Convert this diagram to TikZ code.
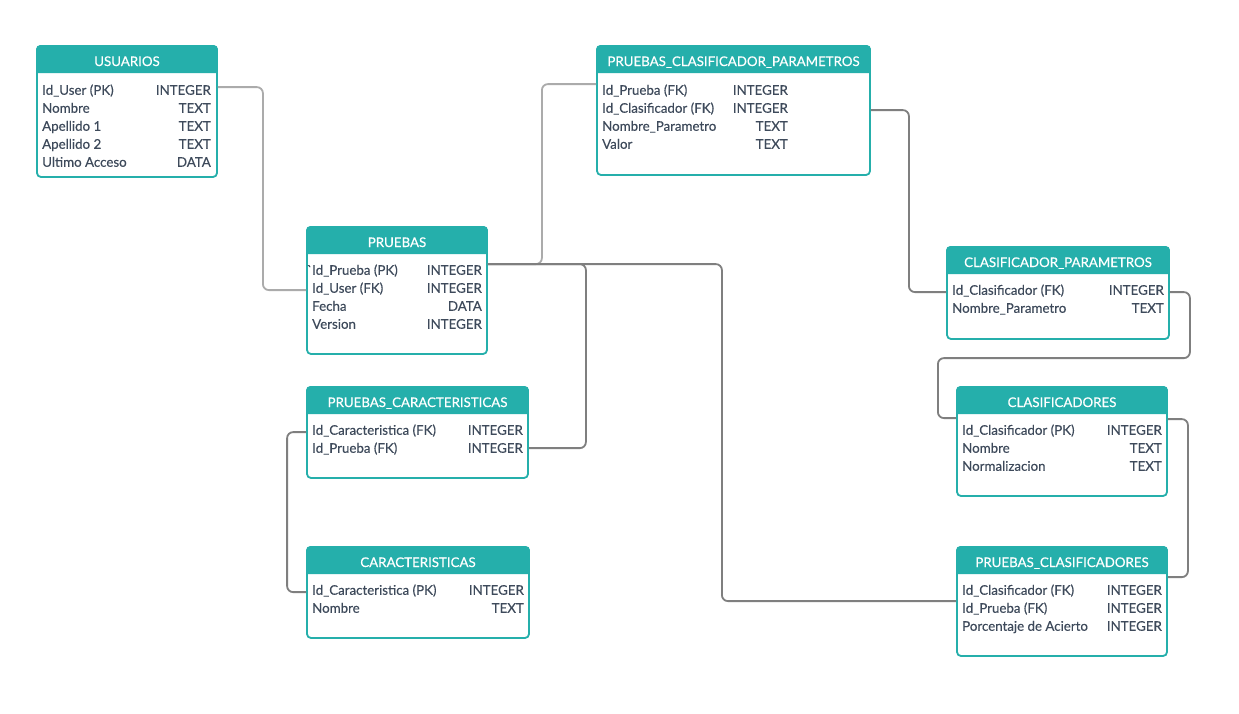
\documentclass[tikz,border=0pt]{standalone}
\usepackage{fontspec}
\setmainfont{Lato}
\newfontfamily\erfont[FakeBold=0.25]{Lato}
\definecolor{teal0}{HTML}{25AFAB}
\definecolor{ink}{HTML}{3E4A5B}
\definecolor{linkdark}{HTML}{7F7F7F}
\definecolor{linklight}{HTML}{ABABAB}

\tikzset{
  erframe/.style={draw=teal0, line width=1.8pt, fill=white, rounded corners=4pt, inner sep=0pt},
  ertitle/.style={text=white, inner sep=0pt, font=\erfont\fontsize{13.3}{15}\selectfont},
  ertext/.style={text=ink, inner sep=0pt, text height=10pt, text depth=0.5pt, font=\erfont\fontsize{13.3}{15}\selectfont},
  link/.style={draw=linkdark, line width=1.8pt, rounded corners=6pt},
  linkpale/.style={link, draw=linklight},
}

% table: name, left x, top y, width, height, title
\newcommand\erbox[6]{%
  \node[erframe, minimum width=#4pt, minimum height=#5pt] (#1) at (#2+#4/2, #3+#5/2) {};
  \fill[teal0] ([yshift=-28pt]#1.north west) [rounded corners=4pt] -- (#1.north west) -- (#1.north east) [sharp corners] -- ([yshift=-28pt]#1.north east) -- cycle;
  \node[ertitle, anchor=base] (#1-title) at (#2+#4/2, #3+20) {#6};
}
% row: name, left x, y, field, right x, type
\newcommand\errow[6]{%
  \node[ertext, anchor=west] (#1) at (#2,#3+1) {#4};
  \node[ertext, anchor=east] (#1-t) at (#5,#3+1) {#6};
}

\begin{document}
\begin{tikzpicture}[x=1pt, y=-1pt]
\useasboundingbox (0,0) rectangle (1239,713);
\fill[white] (0,0) rectangle (1239,713);

% USUARIOS
\erbox{usuarios}{37}{46}{180}{131}{USUARIOS}
\errow{usr-1}{42}{89}{Id\_User (PK)}{211}{INTEGER}
\errow{usr-2}{42}{107}{Nombre}{211}{TEXT}
\errow{usr-3}{42}{125}{Apellido 1}{211}{TEXT}
\errow{usr-4}{42}{143}{Apellido 2}{211}{TEXT}
\errow{usr-5}{42}{161}{Ultimo Acceso}{211}{DATA}

% PRUEBAS
\erbox{pruebas}{307}{227}{180}{127}{PRUEBAS}
\errow{pru-1}{312}{269}{\llap{\textasciigrave}Id\_Prueba (PK)}{482}{INTEGER}
\errow{pru-2}{312}{287}{Id\_User (FK)}{482}{INTEGER}
\errow{pru-3}{312}{305}{Fecha}{482}{DATA}
\errow{pru-4}{312}{323}{Version}{482}{INTEGER}

% PRUEBAS_CLASIFICADOR_PARAMETROS
\erbox{pcp}{597}{46}{273}{129}{PRUEBAS\_CLASIFICADOR\_PARAMETROS}
\errow{pcp-1}{602}{89}{Id\_Prueba (FK)}{788}{INTEGER}
\errow{pcp-2}{602}{107}{Id\_Clasificador (FK)}{788}{INTEGER}
\errow{pcp-3}{602}{125}{Nombre\_Parametro}{788}{TEXT}
\errow{pcp-4}{602}{143}{Valor}{788}{TEXT}

% CLASIFICADOR_PARAMETROS
\erbox{cp}{947}{247}{222}{92}{CLASIFICADOR\_PARAMETROS}
\errow{cp-1}{952}{289}{Id\_Clasificador (FK)}{1164}{INTEGER}
\errow{cp-2}{952}{307}{Nombre\_Parametro}{1164}{TEXT}

% CLASIFICADORES
\erbox{clas}{957}{387}{210}{109}{CLASIFICADORES}
\errow{clas-1}{962}{429}{Id\_Clasificador (PK)}{1162}{INTEGER}
\errow{clas-2}{962}{447}{Nombre}{1162}{TEXT}
\errow{clas-3}{962}{465}{Normalizacion}{1162}{TEXT}

% PRUEBAS_CLASIFICADORES
\erbox{pc}{957}{547}{210}{109}{PRUEBAS\_CLASIFICADORES}
\errow{pc-1}{962}{589}{Id\_Clasificador (FK)}{1162}{INTEGER}
\errow{pc-2}{962}{607}{Id\_Prueba (FK)}{1162}{INTEGER}
\errow{pc-3}{962}{625}{Porcentaje de Acierto}{1162}{INTEGER}

% PRUEBAS_CARACTERISTICAS
\erbox{pcar}{307}{387}{221}{91}{PRUEBAS\_CARACTERISTICAS}
\errow{pcar-1}{312}{429}{Id\_Caracteristica (FK)}{523}{INTEGER}
\errow{pcar-2}{312}{447}{Id\_Prueba (FK)}{523}{INTEGER}

% CARACTERISTICAS
\erbox{car}{307}{547}{222}{91}{CARACTERISTICAS}
\errow{car-1}{312}{589}{Id\_Caracteristica (PK)}{524}{INTEGER}
\errow{car-2}{312}{607}{Nombre}{524}{TEXT}

% relationships
\draw[linkpale] ([yshift=-42pt]usuarios.north east) -- ++(45,0) |- ([yshift=-64pt]pruebas.north west);
\draw[linkpale] ([yshift=-38pt]pruebas.north east) -- ++(54,0) |- ([yshift=-39pt]pcp.north west);
\draw[link] ([yshift=-38pt]pruebas.north east) -- ++(98,0) |- ([yshift=-62pt]pcar.north east);
\draw[link] ([yshift=-38pt]pruebas.north east) -- ++(234,0) |- ([yshift=-55pt]pc.north west);
\draw[link] ([yshift=-65pt]pcp.north east) -- ++(38,0) |- ([yshift=-46pt]cp.north west);
\draw[link] ([yshift=-46pt]cp.north east) -- ++(20,0) -- ++(0,66) -- ++(-252,0) |- ([yshift=-32pt]clas.north west);
\draw[link] ([yshift=-33pt]clas.north east) -- ++(20,0) |- ([yshift=-31pt]pc.north east);
\draw[link] ([yshift=-46pt]pcar.north west) -- ++(-19,0) |- ([yshift=-46pt]car.north west);
\end{tikzpicture}
\end{document}
